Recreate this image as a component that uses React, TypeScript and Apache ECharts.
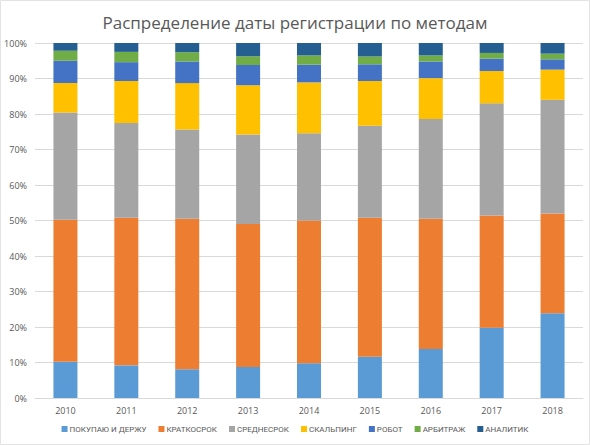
import React, { useEffect, useRef } from "react";
import * as echarts from "echarts";

const years = ["2010", "2011", "2012", "2013", "2014", "2015", "2016", "2017", "2018"];
const seriesNames = ["ПОКУПАЮ И ДЕРЖУ", "КРАТКОСРОК", "СРЕДНЕСРОК", "СКАЛЬПИНГ", "РОБОТ", "АРБИТРАЖ", "АНАЛИТИК"];
const buyHold = [10.2, 9.2, 8.1, 8.7, 9.8, 11.6, 13.8, 19.8, 23.9];
const shortTerm = [40.0, 41.6, 42.4, 40.3, 40.2, 39.2, 36.7, 31.6, 28.1];
const midTerm = [30.2, 26.7, 25.1, 25.2, 24.6, 25.9, 28.1, 31.6, 32.0];
const scalping = [8.3, 11.8, 13.1, 13.9, 14.3, 12.6, 11.5, 9.1, 8.5];
const robot = [6.3, 5.3, 6.1, 5.7, 5.0, 4.7, 4.7, 3.5, 2.9];
const arbitrage = [2.8, 2.9, 2.6, 2.5, 2.6, 2.2, 1.7, 1.6, 1.6];
const analyst = [2.2, 2.5, 2.6, 3.7, 3.5, 3.8, 3.5, 2.8, 3.0];
const seriesData = [buyHold, shortTerm, midTerm, scalping, robot, arbitrage, analyst];
const colors = ["#5B9BD5", "#ED7D31", "#A5A5A5", "#FFC000", "#4472C4", "#70AD47", "#255E91"];
const titleText = "Распределение даты регистрации по методам";

const FONT = "'Open Sans', 'Noto Sans', sans-serif";

export default function App() {
  const ref = useRef<HTMLDivElement>(null);
  useEffect(() => {
    if (!ref.current) return;
    const chart = echarts.init(ref.current, undefined, { renderer: "svg" });
    chart.setOption({
      animation: false,
      color: colors,
      textStyle: { fontFamily: FONT },
      title: {
        text: titleText,
        left: "center",
        top: 9,
        textStyle: { fontSize: 17, fontWeight: "normal", color: "#595959", fontFamily: FONT },
      },
      graphic: [
        {
          type: "rect",
          shape: { x: 0.5, y: 0.5, width: 589, height: 444 },
          style: { fill: "none", stroke: "#e3e3e3", lineWidth: 1 },
          silent: true,
        },
      ],
      legend: {
        bottom: 7,
        left: "center",
        itemWidth: 6,
        itemHeight: 6,
        itemGap: 12,
        icon: "rect",
        textStyle: { fontSize: 8, color: "#595959", fontFamily: "Roboto, sans-serif", padding: [0, 0, 0, -3] },
        data: seriesNames,
      },
      grid: { left: 35, right: 7, top: 43, bottom: 47 },
      xAxis: {
        type: "category",
        data: years,
        axisLine: { lineStyle: { color: "#d9d9d9" } },
        axisTick: { show: false },
        axisLabel: { fontSize: 9, color: "#595959", margin: 8 },
      },
      yAxis: {
        type: "value",
        min: 0,
        max: 100,
        interval: 10,
        axisLabel: { formatter: "{value}%", fontSize: 9, color: "#595959", margin: 8 },
        splitLine: { lineStyle: { color: "#d9d9d9" } },
        axisLine: { show: false },
        axisTick: { show: false },
      },
      series: seriesNames.map((name, i) => ({
        name,
        type: "bar",
        stack: "total",
        barWidth: 24,
        data: seriesData[i],
        itemStyle: { color: colors[i] },
      })),
    });
    return () => chart.dispose();
  }, []);
  return <div ref={ref} style={{ position: "fixed", left: 0, top: 0, width: 590, height: 445, background: "#fff" }} />;
}
